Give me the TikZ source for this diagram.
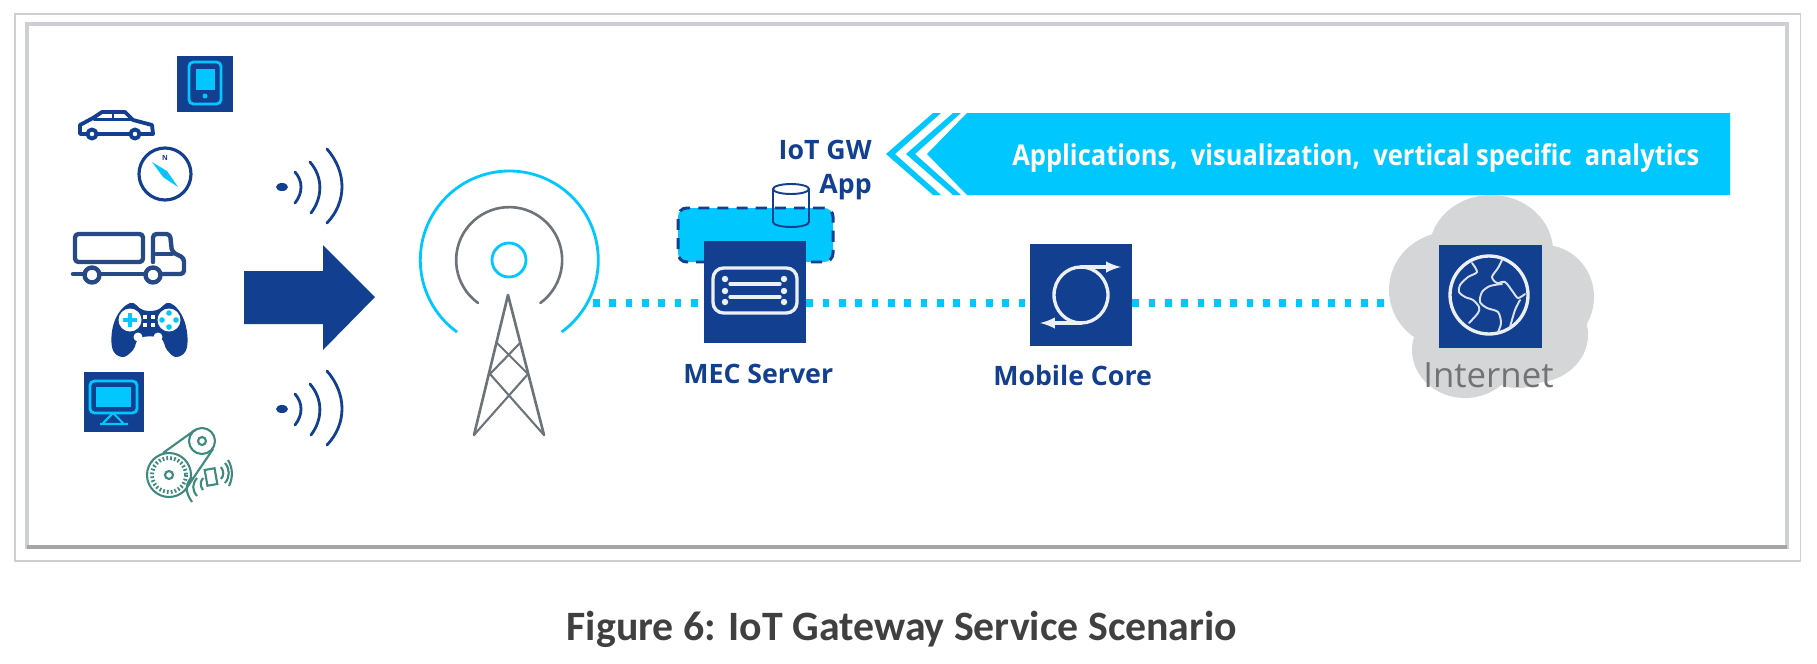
\documentclass[tikz,border=0pt]{standalone}
\usepackage{fontspec}
\usepackage{tikz}
\setmainfont{Open Sans}
\newfontfamily\bannerfont[FakeStretch=0.89]{Open Sans}
\newfontfamily\captionfont{Carlito}
\definecolor{intelNavy}{RGB}{18,63,143}
\definecolor{intelCyan}{RGB}{0,199,253}
\definecolor{intelTeal}{RGB}{62,138,126}
\definecolor{towerGray}{RGB}{108,116,122}
\definecolor{cloudGray}{RGB}{213,214,216}
\definecolor{frameGray}{RGB}{205,207,210}
\def\px{0.02cm}
\tikzset{
	tile/.style={fill=intelNavy,minimum width=#1*\px,minimum height=#1*\px,inner sep=0pt},
	iconline/.style={draw=white!92!intelNavy,line width=1.9pt,line cap=round,line join=round},
	landline/.style={draw=white!85!intelNavy,line width=1.1pt,line cap=round},
	navyline/.style={draw=intelNavy,line width=2.2pt,line cap=round,line join=round},
	waveline/.style={draw=intelNavy,line width=1.6pt,line cap=round},
	cyanline/.style={draw=intelCyan,line width=1.6pt,line join=round},
	towerline/.style={draw=towerGray,line width=1.5pt,line cap=round,line join=round},
	tealline/.style={draw=intelTeal,line width=1.2pt},
	link/.style={draw=intelCyan,line width=4.5pt,dash pattern=on 3.8pt off 5.5pt},
	darklabel/.style={anchor=base west,inner sep=0pt,text=intelNavy,font=\bfseries\fontsize{15.2}{18}\selectfont}
}

\begin{document}
\begin{tikzpicture}[x=0.02cm,y=-0.02cm]
	\useasboundingbox (0,0) rectangle (1817,663);
	% frames
	\draw [frameGray,line width=0.6pt] (15,14) rectangle (1800,561);
	\draw [frameGray,line width=1.8pt] (27,24) rectangle (1787,547);
	\draw [black!35,line width=1.8pt] (27,547) -- (1787,547);

	% banner
	\fill [intelCyan] (967,113) -- (1730,113) -- (1730,195) -- (967,195) -- (927,154) -- cycle;
	\foreach \x in {0,20} {
		\fill [intelCyan] (933+\x,113) -- (941+\x,113) -- (895+\x,154) -- (941+\x,195) -- (933+\x,195) -- (886+\x,154) -- cycle;
	}
	\node (bannerText) at (1012,165) [anchor=base west,inner sep=0pt,text=white,font=\bannerfont\bfseries\fontsize{16.3}{18}\selectfont] {Applications,\ \ visualization,\ \ vertical specific\ \ analytics};

	% cloud
	\begin{scope}[cloudGray]
		\fill (1491,251) ellipse (62 and 56);
		\fill (1449,290) ellipse (60 and 58);
		\fill (1544,297) ellipse (50 and 52);
		\fill (1465,350) ellipse (53 and 48);
		\fill (1533,335) ellipse (55 and 48);
		\fill (1518,345) ellipse (45 and 43);
	\end{scope}
	\coordinate (cloudEdge) at (1391,303);
	\coordinate (towerEdge) at (593,303);

	% gateway box behind server
	\node (gateway) at (755.5,235) [fill=intelCyan,draw=intelNavy,line width=1.7pt,dash pattern=on 6.3pt off 4.6pt,rounded corners=5pt,minimum width=155*\px,minimum height=54*\px] {};
	\draw [draw=intelNavy,line width=1.1pt] (773,189) -- (773,222) arc[start angle=180,end angle=0,x radius=18,y radius=5] -- (809,189);
	\draw [draw=intelNavy,line width=1.1pt] (791,189) ellipse (18 and 5);

	% tiles
	\node (tablet) at (205,84) [tile=56] {};
	\node (monitor) at (114,402) [tile=60] {};
	\node (server) at (755,291.5) [tile=102] {};
	\node (core) at (1081,295) [tile=102] {};
	\node (globe) at (1490,296) [tile=103] {};

	% dotted links
	\path [link] (towerEdge) -- (towerEdge -| server.west);
	\path [link] (towerEdge -| server.east) -- (towerEdge -| core.west);
	\path [link] (towerEdge -| core.east) -- (cloudEdge);

	% labels
	\node (iotLabel) at (872,159) [darklabel,anchor=base east] {IoT GW};
	\node (appLabel) at (872,193) [darklabel,anchor=base east] {App};
	\node (serverLabel) at (683,383) [darklabel] {MEC Server};
	\node (coreLabel) at (993,385) [darklabel] {Mobile Core};
	\node (internetLabel) at (1423,387) [anchor=base west,inner sep=0pt,text=black!55,font=\fontsize{19.8}{22}\selectfont] {Internet};
	\node (captionLabel) at (902,640) [anchor=base,inner sep=0pt,text=black!75,font=\captionfont\bfseries\fontsize{23.8}{26}\selectfont] {Figure 6: IoT Gateway Service Scenario};

	% tablet
	\draw [cyanline,rounded corners=2.5pt] (189,62) rectangle (221,104);
	\fill [intelCyan] (196,69) rectangle (215,90);
	\fill [intelCyan] (205,96) circle (2.5);

	% car
	\draw [navyline,fill=white] (80,134) -- (80,125) -- (93,118) -- (102,112) -- (125,112) -- (133,120) -- (152,125) -- (153,134) -- cycle;
	\draw [navyline,line width=1.5pt] (94,119.5) -- (133,119.5);
	\draw [navyline,line width=1.5pt] (113,112) -- (113,119);
	\foreach \x in {92,135} {
		\draw [navyline,fill=white] (\x,134) circle (4.5);
	}

	% compass
	\draw [navyline,line width=1.8pt] (165,174) circle (26);
	\fill [intelCyan] (152,162) -- (167,171) -- (178,187) -- (163,177) -- cycle;
	\fill [intelNavy!60] (165,174) circle (1.5);
	\node (compassN) at (165,158) [inner sep=0pt,text=intelNavy,font=\bfseries\fontsize{4}{4}\selectfont] {N};

	% truck
	\begin{scope}[every path/.style={draw=intelNavy!85!black!90,line width=2.5pt,line cap=round,line join=round}]
		\draw [rounded corners=2pt] (75,234) rectangle (143,262);
		\draw [rounded corners=2pt] (153,262) -- (153,234) -- (170,234) -- (172,252) -- (184,258) -- (184,274) -- (160,274);
		\draw (73,274) -- (84,274);
		\draw (100,274) -- (145,274);
		\draw (156,254) -- (172,254);
		\draw [fill=white] (92,275) circle (7.5);
		\draw [fill=white] (153,275) circle (7.5);
	\end{scope}

	% gamepad
	\fill [intelNavy] plot [smooth cycle,tension=0.7] coordinates {(112,347) (122,357) (133,350) (140,338) (160,338) (167,350) (177,357) (187,347) (184,320) (170,303) (157,310) (143,310) (130,303) (115,320)};
	\fill [white] (130,320) circle (11.5);
	\fill [white] (169,320) circle (11.5);
	\draw [intelCyan,line width=2.4pt] (123,320) -- (137,320) (130,313) -- (130,327);
	\foreach \x/\y in {169/313,169/327,162/320,176/320} {
		\fill [intelCyan] (\x,\y) circle (2.8);
	}
	\foreach \x/\y in {145/317,153/317,145/325,153/325} {
		\fill [white] (\x-2,\y-2) rectangle (\x+2,\y+2);
	}
	\fill [white] (138,337) circle (4.5);
	\fill [white] (158,337) circle (4.5);

	% monitor
	\draw [cyanline,rounded corners=2.5pt] (90,381) rectangle (137,413);
	\fill [intelCyan] (96,387) rectangle (131,407);
	\draw [cyanline,line width=1.2pt] (113,413) -- (103,423) (123,423) -- (113,413) (100,424) -- (128,424);

	% belt machine
	\begin{scope}[every path/.style={tealline}]
		\draw (169,475) circle (22);
		\draw [line width=2.2pt,dash pattern=on 1pt off 1.2pt] (169,475) circle (17);
		\draw (169,475) circle (4);
		\draw (202,441) circle (13);
		\draw (202,441) circle (4);
		\draw (163,453) -- (195,430);
		\draw (188,486) -- (213,449);
		\draw [rotate around={10:(211,477)}] (206,469) rectangle (216,485);
		\draw (203,478) .. controls (200,482) and (200,486) .. (203,490);
		\draw (197,478) .. controls (192,484) and (192,490) .. (197,496);
		\draw (192,477) .. controls (185,484) and (185,492) .. (192,502);
		\draw (221,467) .. controls (224,471) and (224,476) .. (221,479);
		\draw (225,463) .. controls (230,469) and (230,477) .. (225,483);
		\draw (228,460) .. controls (233,468) and (233,478) .. (229,486);
	\end{scope}

	% radio waves
	\foreach \y in {187,409} {
		\fill [intelNavy] (282,\y) ellipse (6 and 4);
		\draw [waveline] (295,\y-15) .. controls (303,\y-6) and (303,\y+6) .. (295,\y+16);
		\draw [waveline] (310,\y-25) .. controls (323,\y-10) and (323,\y+10) .. (311,\y+26);
		\draw [waveline] (327,\y-38) .. controls (347,\y-15) and (347,\y+15) .. (327,\y+36);
	}

	% big arrow
	\fill [intelNavy] (244,271) -- (323,271) -- (323,245) -- (375,297) -- (323,350) -- (323,324) -- (244,324) -- cycle;

	% tower
	\draw [cyanline] (457,332) arc[start angle=126,end angle=414,radius=89];
	\draw [towerline] (478,303) arc[start angle=126,end angle=414,radius=53];
	\node (beacon) at (509,260) [circle,draw=intelCyan,line width=1.6pt,minimum size=34*\px,inner sep=0pt] {};
	\draw [towerline] (474,435) -- (508,295) -- (544,435);
	\draw [towerline,line width=1.2pt] (474,435) -- (528,374) -- (497,343);
	\draw [towerline,line width=1.2pt] (544,435) -- (490,374) -- (520,343);

	% server icon
	\draw [iconline,rounded corners=6pt] (713,268) rectangle (797,313);
	\draw [iconline] (730,284) -- (780,284);
	\draw [iconline] (730,297) -- (780,297);
	\foreach \x in {725,784} {
		\foreach \y in {279,291,302} {
			\fill [white!92!intelNavy] (\x,\y) circle (3.2);
		}
	}

	% core icon
	\draw [iconline] (1081,295) ellipse (27 and 28);
	\draw [iconline,-latex] (1081,267) -- (1121,267);
	\draw [iconline,-latex] (1081,323) -- (1040,323);

	% globe icon
	\draw [iconline] (1489,295) circle (39);
	\draw [landline] plot [smooth] coordinates {(1472,263) (1477,272) (1468,277) (1460,285) (1459,292) (1465,297) (1473,300) (1479,307) (1478,313) (1469,323)};
	\draw [landline] plot [smooth] coordinates {(1502,260) (1498,268) (1492,277) (1497,283) (1505,282) (1513,292) (1518,298) (1525,294)};
	\draw [landline] plot [smooth] coordinates {(1502,284) (1490,286) (1482,292) (1480,302) (1487,308) (1498,312) (1501,323) (1498,332)};
	\draw [landline] plot [smooth] coordinates {(1520,300) (1515,310) (1510,327)};
\end{tikzpicture}
\end{document}
